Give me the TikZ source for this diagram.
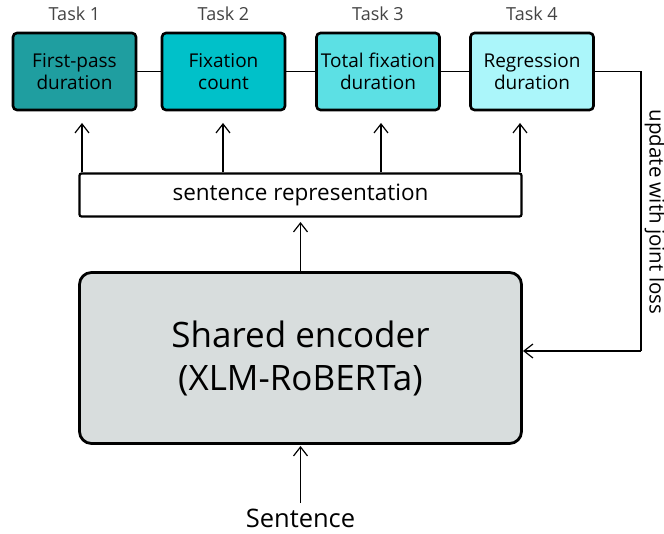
\documentclass[tikz,border=0pt]{standalone}
\usepackage{fontspec}
\setmainfont{Open Sans}
\usetikzlibrary{arrows.meta}
\definecolor{cA}{HTML}{1F9EA0}
\definecolor{cB}{HTML}{00C1C9}
\definecolor{cC}{HTML}{5CE0E4}
\definecolor{cD}{HTML}{ABF6FA}
\definecolor{cEnc}{HTML}{D8DDDD}
\definecolor{cLab}{HTML}{444444}
\begin{document}
\begin{tikzpicture}[x=1pt,y=-1pt,
  task/.style={draw=black,line width=2.6pt,rounded corners=4pt,minimum width=123pt,minimum height=77pt,inner sep=0pt,align=center,font=\fontsize{19}{22}\selectfont},
  tlab/.style={text=cLab,font=\fontsize{18}{21}\selectfont},
  conn/.style={line width=1.2pt},
  arr/.style={line width=1.2pt,-{Straight Barb[length=9pt,width=14pt,line width=1.2pt]}}]
\useasboundingbox (0,0) rectangle (664,534);
\node[task,fill=cA] (t1) at (74.5,71.5) {First-pass\\duration};
\node[task,fill=cB] (t2) at (223.5,71.5) {Fixation\\count};
\node[task,fill=cC] (t3) at (378,71.5) {Total fixation\\duration};
\node[task,fill=cD] (t4) at (532,71.5) {Regression\\duration};
\node[tlab] (l1) at (74.5,14) {Task 1};
\node[tlab] (l2) at (223.5,14) {Task 2};
\node[tlab] (l3) at (378,14) {Task 3};
\node[tlab] (l4) at (532,14) {Task 4};
\draw[conn] (t1.east) -- (t2.west);
\draw[conn] (t2.east) -- (t3.west);
\draw[conn] (t3.east) -- (t4.west);
\node[draw=black,line width=2.2pt,rounded corners=2pt,minimum width=442pt,minimum height=43pt,inner sep=0pt,font=\fontsize{22.5}{26}\selectfont] (rep) at (300.5,195) {sentence representation};
\node[draw=black,fill=cEnc,line width=2.8pt,rounded corners=12pt,minimum width=442pt,minimum height=171pt,inner sep=0pt,align=center,font=\fontsize{35}{43}\selectfont] (enc) at (300.5,358) {Shared encoder\\(XLM-RoBERTa)};
\node[font=\fontsize{25.5}{30}\selectfont] (sent) at (300.5,518) {Sentence};
\coordinate (c1) at (82,123);
\coordinate (c2) at (223,123);
\coordinate (c3) at (381,123);
\coordinate (c4) at (520,123);
\draw[arr] (rep.north -| c1) -- (c1);
\draw[arr] (rep.north -| c2) -- (c2);
\draw[arr] (rep.north -| c3) -- (c3);
\draw[arr] (rep.north -| c4) -- (c4);
\coordinate (r0) at (300.5,222);
\draw[arr] (enc.north) -- (r0);
\coordinate (e0) at (300.5,446);
\coordinate (s0) at (300.5,503);
\draw[arr] (s0) -- (e0);
\coordinate (k1) at (641,71.5);
\coordinate (k2) at (641,351);
\coordinate (k3) at (523,351);
\draw[conn] (t4.east) -- (k1) -- (k2);
\draw[arr] (k2) -- (k3);
\node[rotate=-90,font=\fontsize{20.5}{24}\selectfont] (upd) at (655,212) {update with joint loss};
\end{tikzpicture}
\end{document}
